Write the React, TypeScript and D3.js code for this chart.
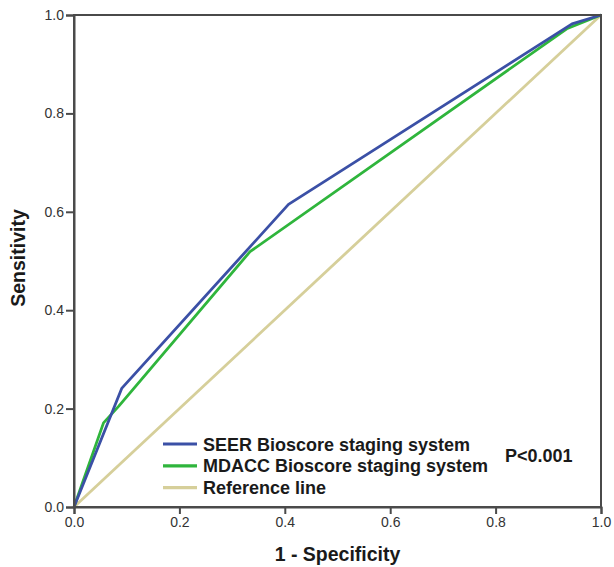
import React, { useEffect, useRef } from "react";
import * as d3 from "d3";

// ROC curves (1 - specificity, sensitivity)
const seerFpr = [0, 0.0905, 0.407, 0.945, 1];
const seerTpr = [0, 0.241, 0.615, 0.982, 1];
const mdaccFpr = [0, 0.056, 0.085, 0.334, 0.935, 1];
const mdaccTpr = [0, 0.171, 0.205, 0.519, 0.972, 1];
const refFpr = [0, 1];
const refTpr = [0, 1];

const tickValues = [0, 0.2, 0.4, 0.6, 0.8, 1.0];
const legendLabels = [
    "SEER Bioscore staging system",
    "MDACC Bioscore staging system",
    "Reference line",
];
const colors = ["#3b50a6", "#2fb53c", "#d6cf9a"];

const FONT = "Liberation Sans, Arial, sans-serif";

function App() {
    const svgRef = useRef<SVGSVGElement | null>(null);

    useEffect(() => {
        const width = 614;
        const height = 567;
        const margin = { top: 15, right: 13, bottom: 60, left: 74 };
        const innerW = width - margin.left - margin.right;
        const innerH = height - margin.top - margin.bottom;

        const svg = d3.select(svgRef.current);
        svg.selectAll("*").remove();
        svg.attr("width", width).attr("height", height);

        const g = svg
            .append("g")
            .attr("transform", `translate(${margin.left},${margin.top})`);

        const x = d3.scaleLinear().domain([0, 1]).range([0, innerW]);
        const y = d3.scaleLinear().domain([0, 1]).range([innerH, 0]);

        // curves
        const line = d3
            .line<[number, number]>()
            .x((d) => x(d[0]))
            .y((d) => y(d[1]));

        const series: [number[], number[]][] = [
            [refFpr, refTpr],
            [mdaccFpr, mdaccTpr],
            [seerFpr, seerTpr],
        ];
        const seriesColors = [colors[2], colors[1], colors[0]];
        series.forEach(([xs, ys], i) => {
            g.append("path")
                .datum(xs.map((v, j) => [v, ys[j]] as [number, number]))
                .attr("fill", "none")
                .attr("stroke", seriesColors[i])
                .attr("stroke-width", 2.8)
                .attr("stroke-linejoin", "round")
                .attr("d", line);
        });

        // frame
        g.append("rect")
            .attr("x", 0)
            .attr("y", 0)
            .attr("width", innerW)
            .attr("height", innerH)
            .attr("fill", "none")
            .attr("stroke", "#4a4a4a")
            .attr("stroke-width", 2);

        // axes
        const fmt = d3.format(".1f");
        const xAxis = g
            .append("g")
            .attr("transform", `translate(0,${innerH})`)
            .call(d3.axisBottom(x).tickValues(tickValues).tickFormat((d) => fmt(d as number)).tickSize(7).tickPadding(3));
        const yAxis = g
            .append("g")
            .call(d3.axisLeft(y).tickValues(tickValues).tickFormat((d) => fmt(d as number)).tickSize(8).tickPadding(2));

        [xAxis, yAxis].forEach((ax) => {
            ax.select(".domain").attr("stroke", "#4a4a4a").attr("stroke-width", 2);
            ax.selectAll(".tick line").attr("stroke", "#4a4a4a").attr("stroke-width", 2);
            ax.selectAll("text")
                .style("font-family", FONT)
                .style("font-size", "14px")
                .attr("fill", "#333");
        });

        // axis titles
        g.append("text")
            .attr("x", innerW / 2)
            .attr("y", innerH + 54)
            .attr("text-anchor", "middle")
            .style("font-family", FONT)
            .style("font-size", "19.5px")
            .style("font-weight", "bold")
            .attr("fill", "#1a1a1a")
            .text("1 - Specificity");

        g.append("text")
            .attr("transform", "rotate(-90)")
            .attr("x", -(258 - margin.top))
            .attr("y", 25 - margin.left)
            .attr("text-anchor", "middle")
            .style("font-family", FONT)
            .style("font-size", "19.5px")
            .style("font-weight", "bold")
            .attr("fill", "#1a1a1a")
            .text("Sensitivity");

        // legend
        const legend = g.append("g").attr("transform", `translate(89,${444 - margin.top})`);
        legendLabels.forEach((label, i) => {
            const row = legend.append("g").attr("transform", `translate(0,${i * 21.8})`);
            row.append("line")
                .attr("x1", 0)
                .attr("x2", 34)
                .attr("y1", 0)
                .attr("y2", 0)
                .attr("stroke", colors[i])
                .attr("stroke-width", 3.2);
            row.append("text")
                .attr("x", 40)
                .attr("y", 6.5)
                .style("font-family", FONT)
                .style("font-size", "18px")
                .style("font-weight", "bold")
                .attr("fill", "#1a1a1a")
                .text(label);
        });

        g.append("text")
            .attr("x", 505 - margin.left)
            .attr("y", 461.5 - margin.top)
            .style("font-family", FONT)
            .style("font-size", "18px")
            .style("font-weight", "bold")
            .attr("fill", "#1a1a1a")
            .text("P<0.001");
    }, []);

    return (
        <div style={{ position: "absolute", left: 0, top: 0 }}>
            <svg ref={svgRef} style={{ display: "block" }} />
        </div>
    );
}

export default App;
